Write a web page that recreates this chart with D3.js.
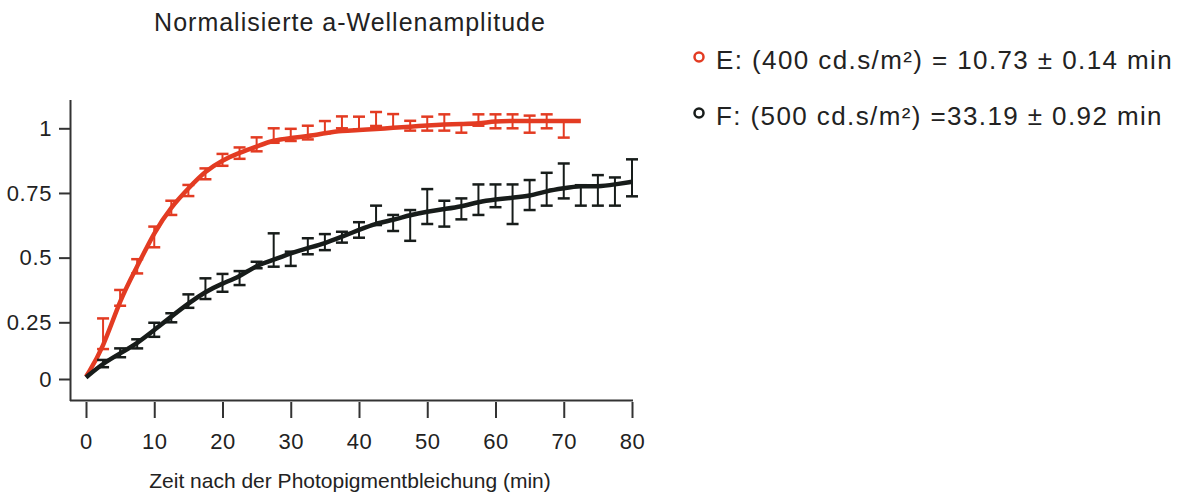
<!DOCTYPE html>
<html>
<head>
<meta charset="utf-8">
<title>a-Wellenamplitude</title>
<script src="https://cdn.jsdelivr.net/npm/d3@7"></script>
<style>
  body { margin: 0; background: #fff; }
  text { font-family: "Liberation Sans", Arial, Helvetica, sans-serif; fill: #222; }
</style>
</head>
<body>
<svg width="1183" height="495" id="mainsvg"></svg>
<script>
// time points (min)
const timesE = [0,2.5,5,7.5,10,12.5,15,17.5,20,22.5,25,27.5,30,32.5,35,37.5,40,42.5,45,47.5,50,52.5,55,57.5,60,62.5,65,67.5,70,72.5];
const timesF = [0,2.5,5,7.5,10,12.5,15,17.5,20,22.5,25,27.5,30,32.5,35,37.5,40,42.5,45,47.5,50,52.5,55,57.5,60,62.5,65,67.5,70,72.5,75,77.5,80];

// E (400 cd.s/m²) - line, bar top, bar bottom (null = no bar)
const lineE = [0.01,0.134,0.34,0.465,0.599,0.697,0.768,0.835,0.877,0.906,0.929,0.955,0.962,0.970,0.981,0.991,0.993,0.997,1.002,1.006,1.011,1.015,1.017,1.018,1.028,1.028,1.028,1.028,1.028,1.028];
const hiE = [null,0.265,0.375,0.494,0.620,0.720,0.781,0.845,0.901,0.926,0.965,1.000,0.998,1.010,1.028,1.046,1.045,1.063,1.055,1.029,1.045,1.054,1.019,1.054,1.054,1.054,1.049,1.054,1.028,null];
const loE = [null,0.132,0.314,0.439,0.540,0.665,0.738,0.803,0.855,0.882,0.911,0.944,0.951,0.957,0.981,1.000,0.996,1.009,1.004,0.991,0.991,0.991,0.983,1.010,1.000,1.000,0.983,1.000,0.964,null];

// F (500 cd.s/m²)
const lineF = [0.007,0.069,0.113,0.157,0.216,0.272,0.323,0.368,0.401,0.426,0.471,0.491,0.517,0.537,0.555,0.581,0.607,0.633,0.645,0.665,0.678,0.688,0.697,0.716,0.725,0.732,0.738,0.758,0.768,0.778,0.774,0.783,0.793];
const hiF = [null,0.084,0.135,0.175,0.248,0.285,0.358,0.420,0.437,0.448,0.484,0.594,0.523,0.575,0.591,0.600,0.637,0.701,0.665,0.684,0.765,0.720,0.729,0.783,0.783,0.783,0.800,0.828,0.864,0.780,0.819,0.810,0.880];
const loF = [null,0.052,0.096,0.135,0.186,0.250,0.306,0.340,0.368,0.394,0.459,0.465,0.468,0.513,0.529,0.558,0.577,0.626,0.603,0.565,0.630,0.620,0.648,0.665,0.695,0.630,0.684,0.701,0.729,0.701,0.701,0.701,0.737];

const xTicks = [0,10,20,30,40,50,60,70,80];
const yTicks = [0,0.25,0.5,0.75,1];
const legendLabels = ["E: (400 cd.s/m²) = 10.73 ± 0.14 min", "F: (500 cd.s/m²) =33.19 ± 0.92 min"];
const colors = ["#e33b22", "#171c1a"];

const svg = d3.select('#mainsvg');

const xScale = d3.scaleLinear().domain([0, 80]).range([86, 632]);
// the printed axis is slightly uneven near zero, so three stops
const yScale = d3.scaleLinear().domain([0, 0.25, 1]).range([379, 322.3, 128.3]);

// title
svg.append('text')
  .attr('x', 350).attr('y', 31)
  .attr('text-anchor', 'middle')
  .style('font-size', '25px')
  .style('letter-spacing', '1px')
  .text('Normalisierte a-Wellenamplitude');

// axes
svg.append('line').attr('x1', 70.5).attr('x2', 70.5).attr('y1', 100).attr('y2', 401)
  .attr('stroke', '#333').attr('stroke-width', 2);
svg.append('line').attr('x1', 70).attr('x2', 633).attr('y1', 400.5).attr('y2', 400.5)
  .attr('stroke', '#333').attr('stroke-width', 2);

const yAxisG = svg.append('g').attr('transform', 'translate(70,0)')
  .call(d3.axisLeft(yScale).tickValues(yTicks).tickFormat(d3.format('~g')).tickSize(11).tickPadding(7));
const xAxisG = svg.append('g').attr('transform', 'translate(0,402)')
  .call(d3.axisBottom(xScale).tickValues(xTicks).tickSize(16).tickPadding(15));

[yAxisG, xAxisG].forEach(g => {
  g.select('.domain').remove();
  g.selectAll('.tick line').attr('stroke', '#333').attr('stroke-width', 2);
  g.selectAll('.tick text')
    .attr('fill', '#222')
    .style('font-family', '"Liberation Sans", Arial, sans-serif')
    .style('font-size', '22px')
    .style('letter-spacing', '0.6px');
});

svg.append('text')
  .attr('x', 350).attr('y', 488)
  .attr('text-anchor', 'middle')
  .style('font-size', '21px')
  .text('Zeit nach der Photopigmentbleichung (min)');

// series
const series = [
  { times: timesE, line: lineE, hi: hiE, lo: loE, color: colors[0] },
  { times: timesF, line: lineF, hi: hiF, lo: loF, color: colors[1] }
];

const line = d3.line()
  .x(d => xScale(d.t))
  .y(d => yScale(d.v))
  .curve(d3.curveBasis);

series.forEach(s => {
  const pts = s.times.map((t, i) => ({ t: t, v: s.line[i], hi: s.hi[i], lo: s.lo[i] }));
  const g = svg.append('g');
  const bars = pts.filter(d => d.hi !== null);
  const capW = 6;
  g.selectAll('.stem').data(bars).join('line')
    .attr('x1', d => xScale(d.t)).attr('x2', d => xScale(d.t))
    .attr('y1', d => yScale(d.hi)).attr('y2', d => yScale(d.lo))
    .attr('stroke', s.color).attr('stroke-width', 2);
  ['hi', 'lo'].forEach(k => {
    g.selectAll('.cap-' + k).data(bars).join('line')
      .attr('x1', d => xScale(d.t) - capW).attr('x2', d => xScale(d.t) + capW)
      .attr('y1', d => yScale(d[k])).attr('y2', d => yScale(d[k]))
      .attr('stroke', s.color).attr('stroke-width', 2.5);
  });
  g.append('path')
    .attr('d', line(pts))
    .attr('fill', 'none')
    .attr('stroke', s.color)
    .attr('stroke-width', 4.5)
    .attr('stroke-linejoin', 'round');
});

// legend
const legend = svg.selectAll('.legend').data(legendLabels).join('g')
  .attr('class', 'legend')
  .attr('transform', (d, i) => `translate(699, ${57 + i * 56})`);
legend.append('circle')
  .attr('r', 4.5)
  .attr('fill', 'none')
  .attr('stroke', (d, i) => colors[i])
  .attr('stroke-width', 2.5);
legend.append('text')
  .attr('x', 17).attr('y', 12)
  .style('font-size', '26px')
  .style('letter-spacing', '1.4px')
  .text(d => d);
</script>
</body>
</html>
